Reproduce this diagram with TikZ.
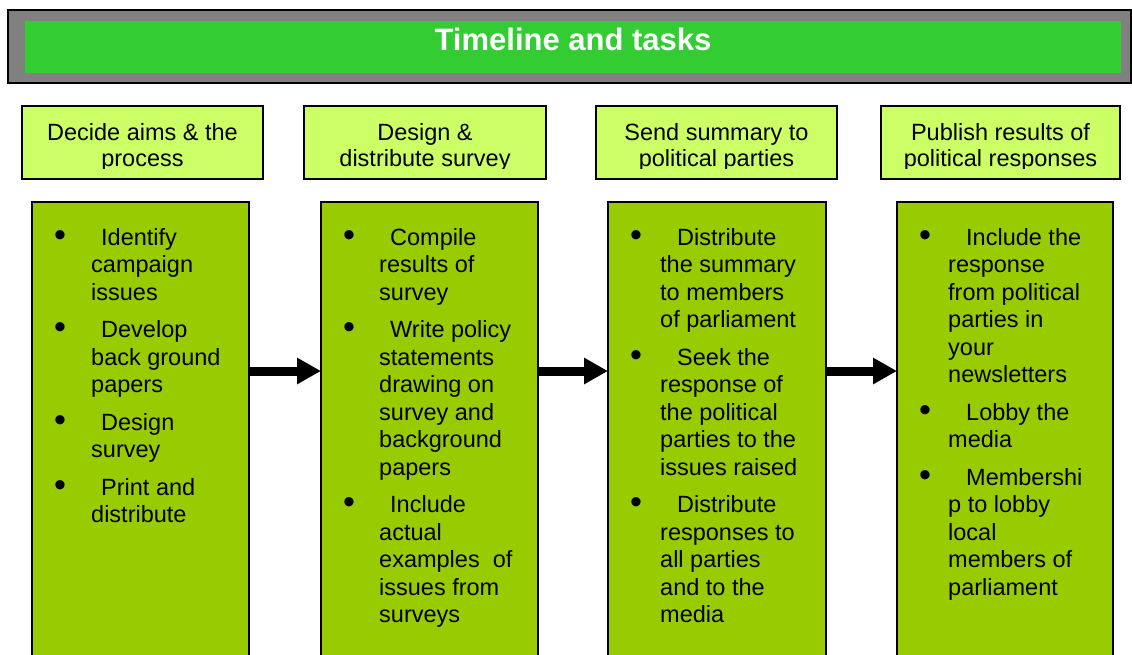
\documentclass[tikz,border=0pt]{standalone}
\usepackage{fontspec}
\usepackage{graphicx}
\setmainfont{Liberation Sans}
\usetikzlibrary{arrows.meta}

\definecolor{framegray}{HTML}{808080}
\definecolor{titlegreen}{HTML}{33CC33}
\definecolor{headlime}{HTML}{CCFF66}
\definecolor{bodygreen}{HTML}{99CC00}

% bulleted task lists with hanging indent
\newlength\contind
\newcommand\entry[1]{\par\noindent\llap{\makebox[\contind][l]{\hspace{22pt}\raisebox{-1pt}{\scalebox{1.45}{\textbullet}}}}\hspace*{\dimexpr69pt-\contind\relax}#1\par}
\newcommand\itemgap{\vspace{10pt}}
\newcommand\tasklist[2]{\parbox[t]{230pt}{\fontsize{23.5}{27.5}\selectfont\raggedright\setlength\contind{#1}\leftskip=\contind\relax\parindent=0pt\parskip=0pt #2}}
\newcommand\headlines[1]{\parbox[t]{250pt}{\fontsize{23.5}{26}\selectfont\centering #1}}

\tikzset{
  frame/.style={draw=black, line width=1.6pt, fill=framegray, rectangle, inner sep=0pt, outer sep=0pt, anchor=north west},
  band/.style={fill=titlegreen, rectangle, inner sep=0pt, outer sep=0pt, anchor=north west},
  headbox/.style={draw=black, line width=1.8pt, fill=headlime, rectangle, inner sep=0pt, outer sep=0pt, anchor=north west, minimum height=73pt},
  bodybox/.style={draw=black, line width=1.8pt, fill=bodygreen, rectangle, inner sep=0pt, outer sep=0pt, anchor=north west, minimum height=480pt},
  headtext/.style={inner sep=0pt, anchor=base},
  tasktext/.style={inner sep=0pt, anchor=base west},
  flow/.style={line width=9pt, -{Triangle[length=24pt,width=25pt]}},
}

\begin{document}
\begin{tikzpicture}[x=1pt, y=-1pt]
\useasboundingbox (0,0) rectangle (1132,654);
\clip (0,0) rectangle (1132,654);
\fill[white] (0,0) rectangle (1132,654);

% title bar
\node[frame, minimum width=1123pt, minimum height=73pt] (frame) at (8,10) {};
\node[band, minimum width=1096pt, minimum height=52pt] (band) at (25,21) {};
\node[inner sep=0pt, anchor=base, text=white, font=\fontsize{31}{31}\selectfont\bfseries] (title) at (573,50) {Timeline and tasks};

% stage headers
\node[headbox, minimum width=241pt] (h1) at (22,106) {};
\node[headbox, minimum width=242pt] (h2) at (304,106) {};
\node[headbox, minimum width=241pt] (h3) at (596,106) {};
\node[headbox, minimum width=239pt] (h4) at (881,106) {};

\begin{scope}
  \clip (h1.north west) rectangle ([yshift=11pt]h1.south east);
  \node[headtext] (ht1) at (142.5,140) {\headlines{Decide aims \& the\\process}};
\end{scope}
\begin{scope}
  \clip (h2.north west) rectangle ([yshift=11pt]h2.south east);
  \node[headtext] (ht2) at (425,140) {\headlines{Design \&\\distribute survey}};
\end{scope}
\begin{scope}
  \clip (h3.north west) rectangle ([yshift=11pt]h3.south east);
  \node[headtext] (ht3) at (716.5,140) {\headlines{Send summary to\\political parties}};
\end{scope}
\begin{scope}
  \clip (h4.north west) rectangle ([yshift=11pt]h4.south east);
  \node[headtext] (ht4) at (1000.5,140) {\headlines{Publish results of\\political responses}};
\end{scope}

% task columns
\node[bodybox, minimum width=217pt] (b1) at (32,202) {};
\node[bodybox, minimum width=217pt] (b2) at (321,202) {};
\node[bodybox, minimum width=218pt] (b3) at (608,202) {};
\node[bodybox, minimum width=216pt] (b4) at (897,202) {};

\node[tasktext] (t1) at (32,245) {\tasklist{59pt}{%
  \entry{Identify\\campaign\\issues}\itemgap
  \entry{Develop\\back ground\\papers}\itemgap
  \entry{Design\\survey}\itemgap
  \entry{Print and\\distribute}}};

\node[tasktext] (t2) at (321,245) {\tasklist{58pt}{%
  \entry{Compile\\results of\\survey}\itemgap
  \entry{Write policy\\statements\\drawing on\\survey and\\background\\papers}\itemgap
  \entry{Include\\actual\\examples\ \ of\\issues from\\surveys}}};

\node[tasktext] (t3) at (608,245) {\tasklist{52pt}{%
  \entry{Distribute\\the summary\\to members\\of parliament}\itemgap
  \entry{Seek the\\response of\\the political\\parties to the\\issues raised}\itemgap
  \entry{Distribute\\responses to\\all parties\\and to the\\media}}};

\node[tasktext] (t4) at (897,245) {\tasklist{51pt}{%
  \entry{Include the\\response\\from political\\parties in\\your\\newsletters}\itemgap
  \entry{Lobby the\\media}\itemgap
  \entry{Membershi\\p to lobby\\local\\members of\\parliament}}};

% arrows between stages
\coordinate (ay) at (0,371);
\draw[flow] (b1.east |- ay) -- (b2.west |- ay);
\draw[flow] (b2.east |- ay) -- (b3.west |- ay);
\draw[flow] (b3.east |- ay) -- (b4.west |- ay);
\end{tikzpicture}
\end{document}
